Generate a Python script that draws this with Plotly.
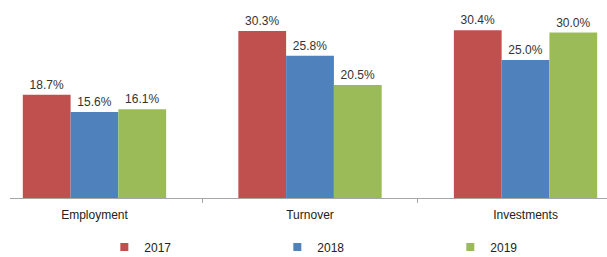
import plotly.graph_objects as go

categories = ["Employment", "Turnover", "Investments"]
years = ["2017", "2018", "2019"]
values_2017 = [18.7, 30.3, 30.4]
values_2018 = [15.6, 25.8, 25.0]
values_2019 = [16.1, 20.5, 30.0]
colors = ["#C0504D", "#4F81BD", "#9BBB59"]

fig = go.Figure()
for name, vals, col in zip(years, [values_2017, values_2018, values_2019], colors):
    fig.add_trace(go.Bar(
        x=categories, y=vals, name=name, marker_color=col,
        marker_line_width=0,
        texttemplate="%{y:.1f}%", textposition="outside",
        textfont=dict(size=12, color="#333333"),
        cliponaxis=False, showlegend=False,
    ))
    fig.add_trace(go.Scatter(
        x=[None], y=[None], mode="markers", name=name,
        marker=dict(symbol="square", size=8, color=col),
    ))

fig.update_layout(
    width=607, height=257,
    margin=dict(l=10, r=0, t=0, b=59, autoexpand=False),
    paper_bgcolor="white", plot_bgcolor="white",
    barmode="group", bargap=0.335, bargroupgap=0,
    font=dict(family="Liberation Sans, Arial, sans-serif", size=12, color="#222222"),
    legend=dict(orientation="h", x=0.158, xanchor="left", y=-0.247, yanchor="middle",
                entrywidth=128, entrywidthmode="pixels", font=dict(size=12, color="#222222"),
                itemwidth=30, tracegroupgap=0),
    xaxis=dict(range=[-0.392, 2.378], showline=True, linecolor="#a6a6a6", linewidth=1,
               ticks="outside", tickson="boundaries", ticklen=4, tickcolor="#a6a6a6",
               ticklabelstandoff=6,
               showgrid=False, tickfont=dict(size=12, color="#222222")),
    yaxis=dict(range=[0, 35.9], visible=False, showgrid=False),
)
fig.write_html("out.html", config={"displayModeBar": False},
               post_script="document.body.style.margin='0';document.body.style.overflow='hidden';")
